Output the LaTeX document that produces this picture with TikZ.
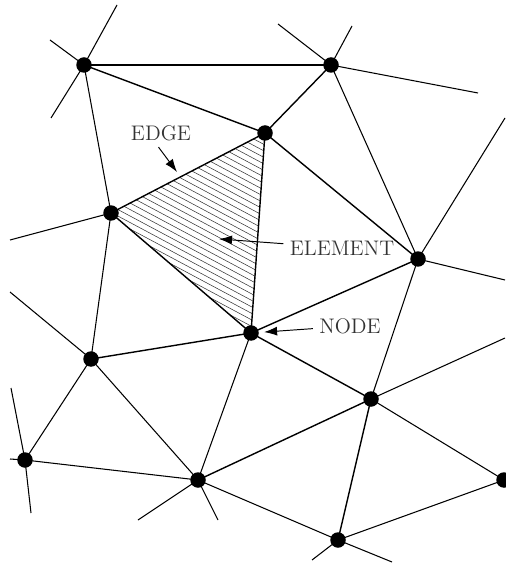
\documentclass[tikz,border=0pt]{standalone}
\usetikzlibrary{arrows.meta}
\tikzset{
  meshnode/.style={circle, fill=black, inner sep=0pt, minimum size=0.31cm},
  meshedge/.style={line width=0.6pt},
  heavyedge/.style={line width=0.8pt},
  hatchline/.style={line width=0.3pt, black!80},
  pointer/.style={-{Latex[length=0.26cm,width=0.18cm]}, line width=0.55pt},
  tag/.style={text=black!80, font=\large, inner sep=3.5pt}
}
\begin{document}
\begin{tikzpicture}[x=0.02cm, y=-0.02cm]
    \useasboundingbox (0,0) rectangle (505,563);
    % Mesh vertices
    \coordinate (a) at (84,65);
    \coordinate (b) at (331,65);
    \coordinate (c) at (265,133);
    \coordinate (d) at (111,213);
    \coordinate (e) at (418,259);
    \coordinate (f) at (251,333);
    \coordinate (g) at (91,359);
    \coordinate (h) at (371,399);
    \coordinate (i) at (25,460);
    \coordinate (j) at (198,480);
    \coordinate (k) at (338,540);
    \coordinate (l) at (504,480);

    % Hatching of the marked element
    \begin{scope}
        \clip (c) -- (d) -- (f) -- cycle;
        \foreach \y in {-60,-53.5,...,300} {
            \draw[hatchline] (100,\y) -- (280,\y+96);
        }
    \end{scope}

    % Interior edges
    \foreach \from/\to in {a/b,a/d,b/e,d/g,e/h,f/j,g/i,g/j,h/l,i/j,j/k,k/l} {
        \draw[meshedge] (\from) -- (\to);
    }
    % These come out heavier
    \foreach \from/\to in {a/c,b/c,c/d,c/e,c/f,d/f,e/f,f/g,f/h,h/j,h/k} {
        \draw[heavyedge] (\from) -- (\to);
    }

    % Edges leaving the picture
    \foreach \from/\x/\y in {a/117/5,a/50/40,a/51/118,b/352/26,b/278/24,b/478/93,d/10/240,e/505/118,e/505/280,g/10/292,h/505/338,i/11/388,i/31/513,i/10/459,j/138/520,j/218/520,k/312/560,k/392/562} {
        \draw[meshedge] (\from) -- (\x,\y);
    }

    % Vertices on top of the lines
    \foreach \name in {a,b,c,d,e,f,g,h,i,j,k,l} {
        \node[meshnode] (n\name) at (\name) {};
    }

    % Labels and their arrows
    \node[tag] (edgelabel) at (161,133) {EDGE};
    \node[tag] (elementlabel) at (342,248) {ELEMENT};
    \node[tag] (nodelabel) at (350,326) {NODE};
    \coordinate (edgetip) at (177,172);
    \coordinate (elementtip) at (219,239);
    \draw[pointer] (edgelabel.260) -- (edgetip);
    \draw[pointer] (elementlabel) -- (elementtip);
    \draw[pointer, shorten >=0.1cm] (nodelabel) -- (nf);
\end{tikzpicture}
\end{document}
